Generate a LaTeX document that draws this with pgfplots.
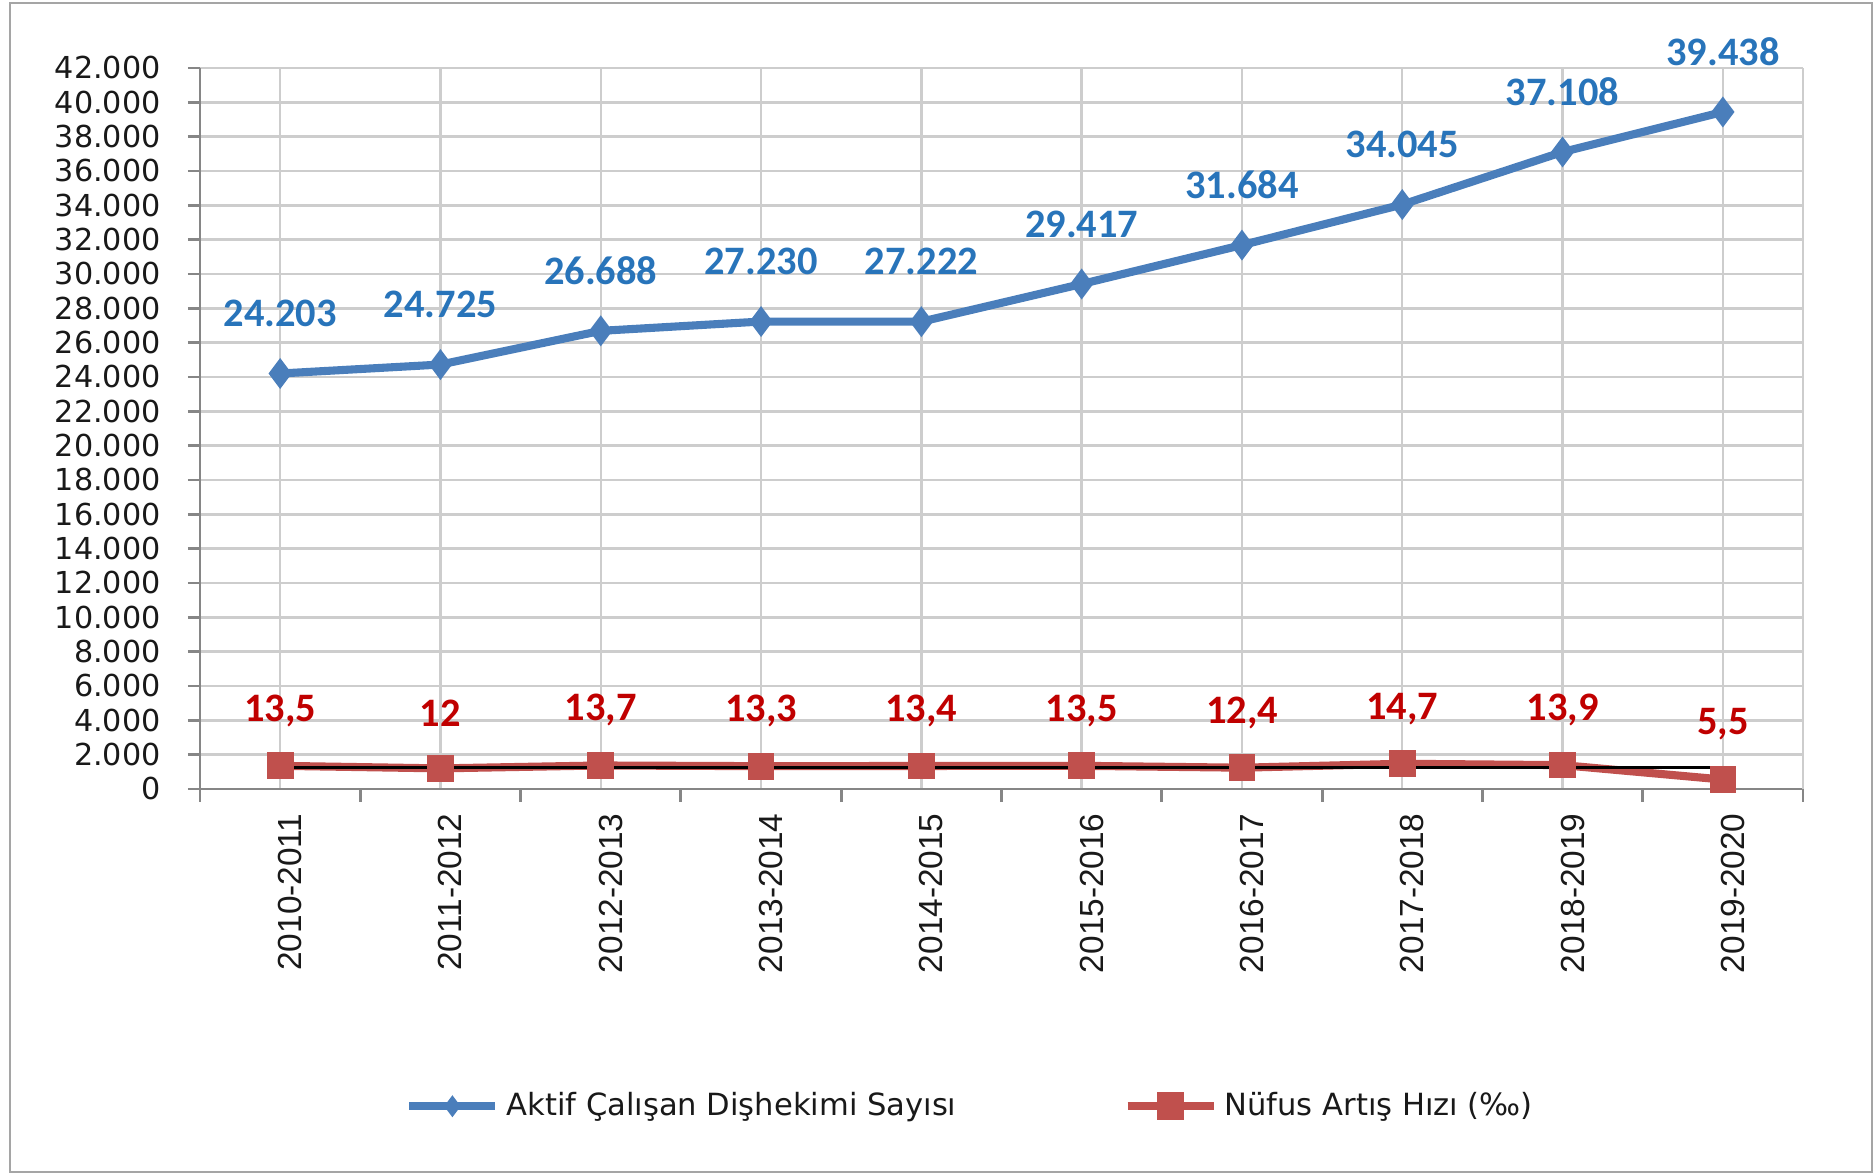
\documentclass[border=0pt]{standalone}
\usepackage{pgfplots}
\pgfplotsset{compat=1.18}
\usepackage{pgfplotstable}
\usepackage{fontspec}
\setmainfont{DejaVu Sans}
\newfontfamily\arialf{Liberation Sans}
\newfontfamily\calib{Carlito}
\definecolor{bline}{RGB}{74,126,187}
\definecolor{blab}{RGB}{40,116,186}
\definecolor{rmark}{RGB}{192,80,77}
\definecolor{rlab}{RGB}{192,0,0}
\definecolor{gridc}{RGB}{205,205,205}
\definecolor{axc}{RGB}{134,134,134}
\definecolor{txt}{RGB}{25,25,25}

\pgfplotstableread{
x y
0 24203
1 24725
2 26688
3 27230
4 27222
5 29417
6 31684
7 34045
8 37108
9 39438
}\dentists

\pgfplotstableread{
x y v
0 1350 13.5
1 1200 12
2 1370 13.7
3 1330 13.3
4 1340 13.4
5 1350 13.5
6 1240 12.4
7 1470 14.7
8 1390 13.9
9 550 5.5
}\growth

\begin{document}
\begin{tikzpicture}
\draw[color={rgb,255:red,165;green,165;blue,165}, line width=0.6pt] (0.1,0.03) rectangle (18.72,11.72);
\begin{axis}[
  at={(2.00cm,3.86cm)}, anchor=south west,
  scale only axis, width=16.03cm, height=7.21cm,
  xmin=-0.5, xmax=9.5, ymin=0, ymax=42000,
  axis x line*=bottom, axis y line*=left,
  x axis line style={draw=axc, line width=0.8pt},
  y axis line style={draw=axc, line width=0.8pt},
  xtick={0,...,9},
  xticklabels={2010-2011,2011-2012,2012-2013,2013-2014,2014-2015,2015-2016,2016-2017,2017-2018,2018-2019,2019-2020},
  minor xtick={-0.5,0.5,...,9.5},
  ytick={0,2000,...,42000},
  scaled y ticks=false,
  tick align=outside,
  major tick length=0.12cm,
  minor tick length=0.13cm,
  major x tick style={draw=none},
  minor x tick style={draw=axc, line width=0.8pt},
  ytick style={draw=axc, line width=0.8pt},
  xmajorgrids, ymajorgrids,
  grid style={draw=gridc, line width=0.7pt},
  yticklabel style={/pgf/number format/.cd, fixed, 1000 sep={.}, assume math mode=true,
    /tikz/.cd, font=\fontsize{8.6}{10}\selectfont, text=txt, xshift=-0.15cm},
  xticklabel style={font=\arialf\fontsize{9.5}{11}\selectfont, text=txt, rotate=90, anchor=east, yshift=-0.1cm},
  legend style={at={(rel axis cs:0.482,-0.44)}, anchor=center, draw=none, fill=none,
    legend columns=2, font=\fontsize{8.7}{10}\selectfont, text=txt,
    /tikz/every even column/.append style={column sep=1.6cm}},
  legend image code/.code={\draw[mark repeat=2,mark phase=2] plot coordinates {(0cm,0cm) (0.43cm,0cm) (0.86cm,0cm)};},
  clip=false,
]
\draw[gridc, line width=0.7pt] (rel axis cs:1,0) -- (rel axis cs:1,1);
% red line
\addplot[rmark, line width=2.3pt, no markers, forget plot] table[x=x,y=y] {\growth};
% black flat line
\addplot[black, line width=1pt, no markers, forget plot] coordinates {(0,1259) (9,1259)};
% red markers + labels
\addplot[draw=none, mark=square*, mark size=3.6pt, mark options={fill=rmark, draw=rmark},
  forget plot, point meta=explicit,
  nodes near coords={\pgfmathprintnumber[use comma,1000 sep={},assume math mode=true]{\pgfplotspointmeta}},
  every node near coord/.style={anchor=center, yshift=0.55cm, text=rlab,
    font=\calib\bfseries\fontsize{11.5}{13}\selectfont}]
  table[x=x,y=y,meta=v] {\growth};
% blue
\addplot[bline, line width=2.3pt, mark=diamond*, mark size=4pt, mark options={fill=bline, draw=bline, line width=0.5pt},
  forget plot, point meta=y,
  nodes near coords={\pgfmathprintnumber[fixed,1000 sep={.},assume math mode=true]{\pgfplotspointmeta}},
  every node near coord/.style={anchor=center, yshift=0.6cm, text=blab,
    font=\calib\bfseries\fontsize{11.5}{13}\selectfont}]
  table[x=x,y=y] {\dentists};
\addlegendimage{bline, line width=2.3pt, mark=diamond*, mark size=2.8pt, mark options={fill=bline, draw=bline, line width=0.4pt}}
\addlegendentry{Aktif Çalışan Dişhekimi Sayısı}
\addlegendimage{rmark, line width=2.3pt, mark=square*, mark size=2.8pt, mark options={fill=rmark, draw=rmark}}
\addlegendentry{Nüfus Artış Hızı (‰)}
\end{axis}
\pgfresetboundingbox
\path[use as bounding box] (0,0) rectangle (18.75,11.75);
\end{tikzpicture}
\end{document}
